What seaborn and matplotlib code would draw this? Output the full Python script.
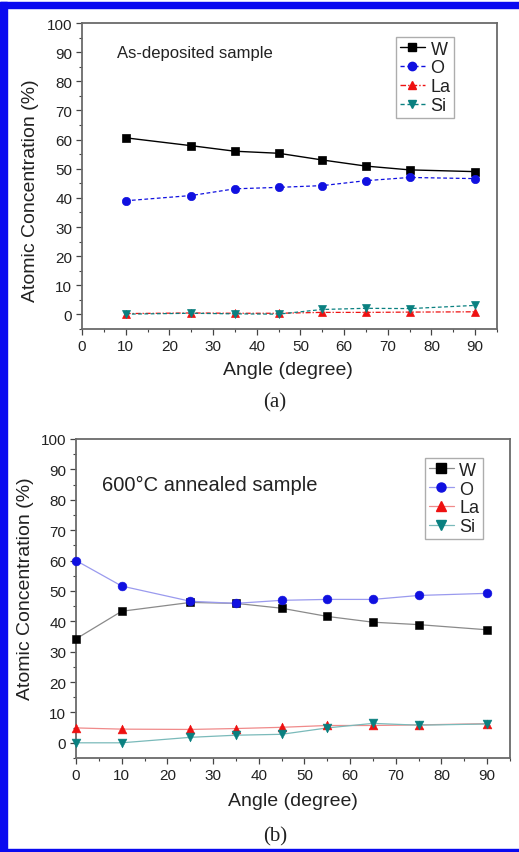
import matplotlib
matplotlib.use("Agg")
import matplotlib.pyplot as plt
from matplotlib.lines import Line2D
from matplotlib.patches import Rectangle
from matplotlib.ticker import MultipleLocator
import numpy as np
import pandas as pd
import seaborn as sns

# (a) as-deposited film: composition vs. take-off angle
angle_a = [10, 25, 35, 45, 55, 65, 75, 90]
W_a = [60.6, 57.9, 56.0, 55.3, 53.0, 50.9, 49.6, 49.0]
O_a = [39.0, 40.8, 43.1, 43.6, 44.2, 45.9, 47.0, 46.6]
La_a = [0.3, 0.5, 0.4, 0.4, 0.7, 0.7, 0.8, 0.9]
Si_a = [0.1, 0.4, 0.2, 0.1, 1.7, 2.1, 2.0, 3.1]

# (b) film annealed at 600 °C
angle_b = [0, 10, 25, 35, 45, 55, 65, 75, 90]
W_b = [34.2, 43.3, 46.2, 45.9, 44.3, 41.6, 39.7, 38.9, 37.2]
O_b = [60.0, 51.6, 46.6, 45.9, 46.9, 47.2, 47.2, 48.5, 49.2]
La_b = [4.9, 4.5, 4.4, 4.7, 5.1, 5.7, 5.7, 5.9, 6.3]
Si_b = [0.0, 0.0, 1.8, 2.5, 2.8, 4.9, 6.4, 5.8, 6.2]

elements = ["W", "O", "La", "Si"]
markers = {"W": "s", "O": "o", "La": "^", "Si": "v"}
colors = {"W": "black", "O": "#1010e0", "La": "#ee1111", "Si": "#0a8080"}
styles_a = {"W": "-", "O": (0, (3, 2)), "La": (0, (4, 1.5, 1, 1.5)), "Si": (0, (3, 2))}
line_colors_b = {"W": "#8a8a8a", "O": "#9a9aee", "La": "#f08a8a", "Si": "#7ababa"}

sns.set_style("ticks")
plt.rcParams["font.family"] = ["Liberation Sans", "DejaVu Sans"]
plt.rcParams["text.color"] = "#222222"
plt.rcParams["axes.labelcolor"] = "#222222"
plt.rcParams["xtick.color"] = "#444444"
plt.rcParams["ytick.color"] = "#444444"
plt.rcParams["xtick.labelcolor"] = "#222222"
plt.rcParams["ytick.labelcolor"] = "#222222"

W_PX, H_PX = 519, 853
fig = plt.figure(figsize=(W_PX / 100, H_PX / 100), dpi=100)


def frac_box(left, top, right, bottom):
    return [left / W_PX, 1 - bottom / H_PX, (right - left) / W_PX, (bottom - top) / H_PX]


ax_a = fig.add_axes(frac_box(82, 24, 497, 330))
ax_b = fig.add_axes(frac_box(76, 440, 510, 759))


def long_frame(angles, series):
    rows = []
    for el, vals in series.items():
        for a, v in zip(angles, vals):
            rows.append({"angle": a, "conc": v, "element": el})
    return pd.DataFrame(rows)


df_a = long_frame(angle_a, {"W": W_a, "O": O_a, "La": La_a, "Si": Si_a})
df_b = long_frame(angle_b, {"W": W_b, "O": O_b, "La": La_b, "Si": Si_b})

# panel (a): marker + line in the same colour
for el in elements:
    sub = df_a[df_a["element"] == el]
    sns.lineplot(data=sub, x="angle", y="conc", ax=ax_a, color=colors[el],
                 linestyle=styles_a[el], linewidth=1.0 if el == "W" else 0.9,
                 marker=markers[el], markersize=6, markeredgewidth=0.5,
                 markeredgecolor=colors[el], legend=False, zorder=3)

# panel (b): pale thin connecting lines, saturated markers
for el in elements:
    sub = df_b[df_b["element"] == el]
    sns.lineplot(data=sub, x="angle", y="conc", ax=ax_b, color=line_colors_b[el],
                 linewidth=0.9, legend=False, zorder=2)
    sns.scatterplot(data=sub, x="angle", y="conc", ax=ax_b, color=colors[el],
                    marker=markers[el], s=40, edgecolor=colors[el], linewidth=0.4,
                    legend=False, zorder=3, clip_on=False)


def style_axes(ax):
    ax.set_xlim(0, 95)
    ax.set_ylim(-5, 100)
    ax.xaxis.set_major_locator(MultipleLocator(10))
    ax.xaxis.set_minor_locator(MultipleLocator(5))
    ax.yaxis.set_major_locator(MultipleLocator(10))
    ax.yaxis.set_minor_locator(MultipleLocator(5))
    ax.set_xticks(np.arange(0, 91, 10))
    ax.tick_params(which="major", direction="out", length=4, width=0.9, labelsize=11, pad=3)
    ax.tick_params(which="minor", direction="out", length=2.5, width=0.8)
    for sp in ax.spines.values():
        sp.set_visible(True)
        sp.set_color("#6a6a6a")
        sp.set_linewidth(1.3)
    ax.set_xlabel("Angle (degree)", fontsize=14)
    ax.set_ylabel("Atomic Concentration (%)", fontsize=14)


style_axes(ax_a)
style_axes(ax_b)
ax_a.xaxis.set_label_coords(0.497, -0.105)
ax_a.yaxis.set_label_coords(-0.1036, 0.455)
ax_b.xaxis.set_label_coords(0.50, -0.107)
ax_b.yaxis.set_label_coords(-0.0968, 0.533)

ax_a.text(0.084, 0.905, "As-deposited sample", transform=ax_a.transAxes,
          fontsize=12, va="center", ha="left")
ax_b.text(0.06, 0.859, "600°C annealed sample", transform=ax_b.transAxes,
          fontsize=14.5, va="center", ha="left")

handles_a = [Line2D([], [], color=colors[el], linestyle=styles_a[el], linewidth=1.0,
                    marker=markers[el], markersize=6, markeredgecolor=colors[el])
             for el in elements]
handles_b = [Line2D([], [], color=line_colors_b[el], linewidth=0.9, marker=markers[el],
                    markersize=6.5, markerfacecolor=colors[el], markeredgecolor=colors[el])
             for el in elements]

for ax, handles, anchor, fs in [(ax_a, handles_a, (0.757, 0.954), 13),
                                (ax_b, handles_b, (0.804, 0.940), 13)]:
    leg = ax.legend(handles, elements, loc="upper left", bbox_to_anchor=anchor,
                    fontsize=fs, frameon=True, fancybox=False, handlelength=1.4,
                    handletextpad=0.3, labelspacing=0.1, borderpad=0.2,
                    borderaxespad=0.0)
    leg.get_frame().set_edgecolor("#999999")
    leg.get_frame().set_linewidth(1.0)

fig.text(275 / W_PX, 1 - 403 / H_PX, "(a)", fontsize=15, ha="center", va="center",
         family=["Liberation Serif", "DejaVu Serif"])
fig.text(275 / W_PX, 1 - 837 / H_PX, "(b)", fontsize=15, ha="center", va="center",
         family=["Liberation Serif", "DejaVu Serif"])

# blue frame around the figure
blue = "#0a0af0"
fig.patches.extend([
    Rectangle((0, 1 - 9 / H_PX), 1, 6 / H_PX, transform=fig.transFigure,
              color=blue, zorder=10),
    Rectangle((0, 0), 7 / W_PX, 1 - 3 / H_PX, transform=fig.transFigure,
              color=blue, zorder=10),
    Rectangle((0, 0), 1, 3 / H_PX, transform=fig.transFigure,
              color=blue, zorder=10),
])

fig.savefig("out.png", dpi=100)
